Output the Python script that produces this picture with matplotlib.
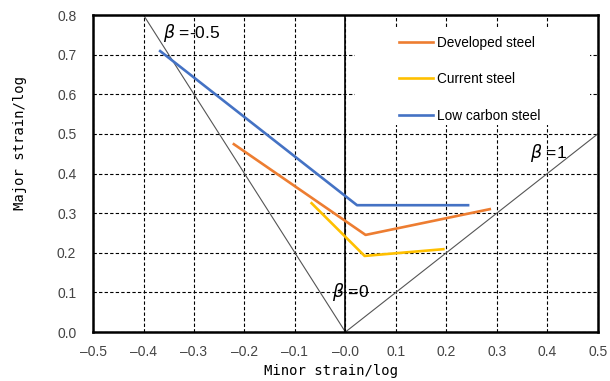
import matplotlib
matplotlib.use("Agg")
import matplotlib.pyplot as plt
from matplotlib.patches import Rectangle
import numpy as np

# forming limit curves (minor strain, major strain)
dev_minor = [-0.221, 0.040, 0.286]
dev_major = [0.474, 0.245, 0.310]
cur_minor = [-0.067, 0.038, 0.194]
cur_major = [0.325, 0.192, 0.209]
low_minor = [-0.367, 0.023, 0.243]
low_major = [0.709, 0.320, 0.320]

# strain-path reference lines
beta_neg_minor = [-0.4, 0.0]
beta_neg_major = [0.8, 0.0]
beta_one_minor = [0.0, 0.5]
beta_one_major = [0.0, 0.5]

x_ticks = np.round(np.arange(-0.5, 0.51, 0.1), 1)
y_ticks = np.round(np.arange(0.0, 0.81, 0.1), 1)

fig = plt.figure(figsize=(6.1, 3.81), dpi=100)
ax = fig.add_axes([0.1525, 0.1286, 0.8275, 0.832])

ax.plot(beta_neg_minor, beta_neg_major, color="#555555", lw=0.8, zorder=2)
ax.plot(beta_one_minor, beta_one_major, color="#555555", lw=0.8, zorder=2)
ax.axvline(0, color="black", lw=1.2, zorder=2)

ax.plot(dev_minor, dev_major, color="#ED7D31", lw=1.9, label="Developed steel", zorder=3)
ax.plot(cur_minor, cur_major, color="#FFC000", lw=1.9, label="Current steel", zorder=3)
ax.plot(low_minor, low_major, color="#4472C4", lw=1.9, label="Low carbon steel", zorder=3)

ax.set_xlim(-0.5, 0.5)
ax.set_ylim(0, 0.8)
ax.set_xticks(x_ticks)
ax.set_yticks(y_ticks)
ax.set_xticklabels([f"{v:.1f}".replace("-", "\u2013") for v in x_ticks])
ax.set_yticklabels([f"{v:.1f}" for v in y_ticks])
ax.tick_params(length=0, labelsize=10, labelcolor="#444444")
ax.tick_params(axis="y", pad=12)
ax.tick_params(axis="x", pad=9)
for lab in ax.get_xticklabels() + ax.get_yticklabels():
    lab.set_family("Liberation Sans")

ax.grid(True, ls=(0, (3, 2)), color="black", lw=0.8, zorder=1)
ax.set_axisbelow(True)
for s in ax.spines.values():
    s.set_linewidth(1.8)

ax.set_xlabel("Minor strain/log", family="DejaVu Sans Mono", fontsize=10)
ax.set_ylabel("Major strain/log", family="DejaVu Sans Mono", fontsize=10)
ax.xaxis.set_label_coords(0.472, -0.1)
ax.yaxis.set_label_coords(-0.13, 0.595)

# white box behind the legend hides the grid there
ax.add_patch(Rectangle((0.519, 0.653), 0.465, 0.306, transform=ax.transAxes,
                       facecolor="white", edgecolor="none", zorder=1.5))

tkw = dict(fontsize=12.5, family="Liberation Sans", zorder=4, va="center")
ax.text(-0.362, 0.755, r"$\beta$ =-0.5", **tkw)
ax.text(0.366, 0.452, r"$\beta$ =1", **tkw)
ax.text(-0.026, 0.102, r"$\beta$ =0", **tkw)

leg = ax.legend(loc="upper left", bbox_to_anchor=(0.606, 0.935), frameon=False,
                handlelength=2.5, handletextpad=0.3, labelspacing=1.65,
                borderpad=0, borderaxespad=0,
                prop={"family": "Liberation Sans", "size": 9.8})
leg.set_zorder(5)

fig.savefig("out.png", dpi=100)
